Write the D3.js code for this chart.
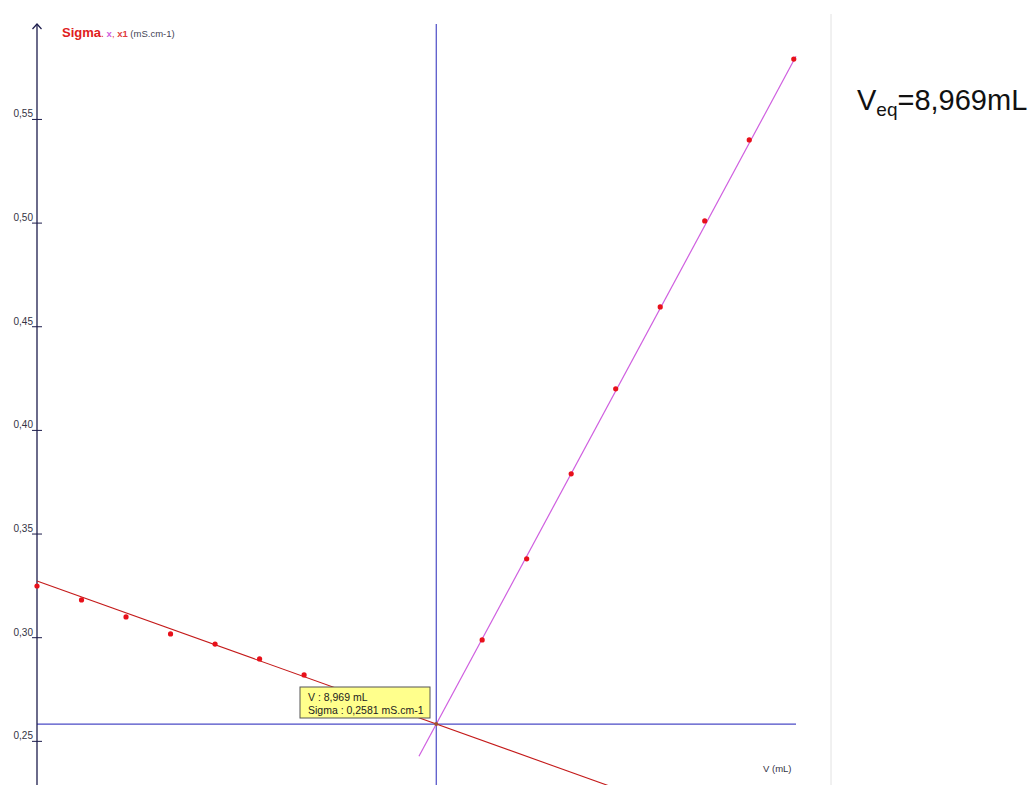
<!DOCTYPE html>
<html>
<head>
<meta charset="utf-8">
<script src="https://cdn.jsdelivr.net/npm/d3@7"></script>
<style>
  body { margin: 0; background: #fff; }
  svg { display: block; font-family: "Liberation Sans", Arial, sans-serif; }
</style>
</head>
<body>
<svg id="chart" width="1030" height="785"></svg>
<script>
// measured points (V in mL, sigma in mS/cm)
var volBefore = [0, 1, 2, 3, 4, 5, 6];
var sigBefore = [0.3247, 0.3180, 0.3098, 0.3016, 0.2967, 0.2895, 0.2818];
var volAfter = [10, 11, 12, 13, 14, 15, 16, 17];
var sigAfter = [0.2987, 0.3378, 0.3788, 0.4198, 0.4593, 0.5008, 0.5399, 0.5789];

// fitted lines: [start V, end V], slope, intercept
var fitBeforeRange = [0, 12.95];
var fitBefore = {slope: -0.00769, intercept: 0.3271};
var fitAfterRange = [8.58, 17.05];
var fitAfter = {slope: 0.03986, intercept: 0.2581 - 0.03986 * 8.969};

var vEq = 8.969, sigEq = 0.2581;
var yTicks = [0.25, 0.30, 0.35, 0.40, 0.45, 0.50, 0.55];

var svg = d3.select("#chart");

var x = d3.scaleLinear().domain([0, 17.05]).range([37, 796]);
var y = d3.scaleLinear().domain([0.2287, 0.5958]).range([785, 24]);

var comma = function(d) { return d3.format(".2f")(d).replace(".", ","); };

// right separator
svg.append("line")
    .attr("x1", 831).attr("x2", 831).attr("y1", 14).attr("y2", 785)
    .attr("stroke", "#e2e2e2").attr("stroke-width", 1);

// equivalence crosshair
svg.append("line")
    .attr("x1", x(vEq)).attr("x2", x(vEq)).attr("y1", 24).attr("y2", 785)
    .attr("stroke", "#4b4bc6").attr("stroke-width", 1.2);
svg.append("line")
    .attr("x1", x(0)).attr("x2", x(17.05)).attr("y1", y(sigEq)).attr("y2", y(sigEq))
    .attr("stroke", "#4b4bc6").attr("stroke-width", 1.2);

// y axis
var yAxis = svg.append("g")
    .attr("transform", "translate(" + x(0) + ",0)")
    .call(d3.axisLeft(y).tickValues(yTicks).tickFormat(comma).tickSizeOuter(0));
yAxis.select(".domain").remove();
yAxis.selectAll(".tick line")
    .attr("x1", -5).attr("x2", 5).attr("stroke", "#1c1c4c");
yAxis.selectAll(".tick text")
    .attr("x", -4).attr("y", -2).attr("dy", 0)
    .attr("fill", "#333344").style("font-size", "10px")
    .style("font-family", "Liberation Sans, Arial, sans-serif");

svg.append("line")
    .attr("x1", x(0)).attr("x2", x(0)).attr("y1", 24).attr("y2", 785)
    .attr("stroke", "#1c1c4c").attr("stroke-width", 1.3);
svg.append("path")
    .attr("d", "M" + (x(0) - 4.5) + ",29 L" + x(0) + ",24 L" + (x(0) + 4.5) + ",29")
    .attr("fill", "none").attr("stroke", "#1c1c4c").attr("stroke-width", 1.2);

// fitted lines
function fitLine(fit, range) {
  return range.map(function(v) { return [x(v), y(fit.slope * v + fit.intercept)]; });
}

svg.append("path")
    .attr("d", d3.line()(fitLine(fitBefore, fitBeforeRange)))
    .attr("stroke", "#c41a1a").attr("stroke-width", 1.1).attr("fill", "none");
svg.append("path")
    .attr("d", d3.line()(fitLine(fitAfter, fitAfterRange)))
    .attr("stroke", "#cf5fe0").attr("stroke-width", 1.2).attr("fill", "none");

// points
var pts = volBefore.map(function(v, i) { return {v: v, s: sigBefore[i]}; })
  .concat(volAfter.map(function(v, i) { return {v: v, s: sigAfter[i]}; }));
svg.selectAll(".dot")
    .data(pts)
  .enter().append("circle")
    .attr("class", "dot")
    .attr("cx", function(d) { return x(d.v); })
    .attr("cy", function(d) { return y(d.s); })
    .attr("r", 2.6)
    .attr("fill", "#e8101a");

svg.append("circle")
    .attr("cx", x(vEq)).attr("cy", y(sigEq)).attr("r", 2)
    .attr("fill", "#a0522d");

// tooltip
var tip = svg.append("g").attr("transform", "translate(300,687)");
tip.append("rect")
    .attr("width", 130).attr("height", 31)
    .attr("fill", "#ffff8c").attr("stroke", "#555555").attr("stroke-width", 1);
tip.append("text").attr("x", 8).attr("y", 14)
    .style("font-size", "10.5px").attr("fill", "#222")
    .text("V : " + String(vEq).replace(".", ",") + " mL");
tip.append("text").attr("x", 8).attr("y", 27)
    .style("font-size", "10.5px").attr("fill", "#222")
    .text("Sigma : " + String(sigEq).replace(".", ",") + " mS.cm-1");

// axis titles
var title = svg.append("text").attr("x", 62).attr("y", 37);
title.append("tspan").text("Sigma").attr("fill", "#e02020")
    .style("font-size", "13px").style("font-weight", "bold");
title.append("tspan").text(". ").attr("fill", "#e02020").style("font-size", "10px");
title.append("tspan").text("x").attr("fill", "#d060e0").style("font-size", "9.5px")
    .style("font-weight", "bold");
title.append("tspan").text(", ").attr("fill", "#e04040").style("font-size", "9.5px");
title.append("tspan").text("x1").attr("fill", "#e04040").style("font-size", "9.5px")
    .style("font-weight", "bold");
title.append("tspan").text(" (mS.cm-1)").attr("fill", "#444455").style("font-size", "9.5px");

svg.append("text")
    .attr("x", 763).attr("y", 772)
    .style("font-size", "9.5px").attr("fill", "#333344")
    .text("V (mL)");

// result label
var res = svg.append("text").attr("x", 857).attr("y", 110)
    .style("font-size", "29px").attr("fill", "#111");
res.append("tspan").text("V");
res.append("tspan").text("eq").style("font-size", "19px").attr("dy", 6);
res.append("tspan").text("=" + String(vEq).replace(".", ",") + "mL").attr("dy", -6);
</script>
</body>
</html>
